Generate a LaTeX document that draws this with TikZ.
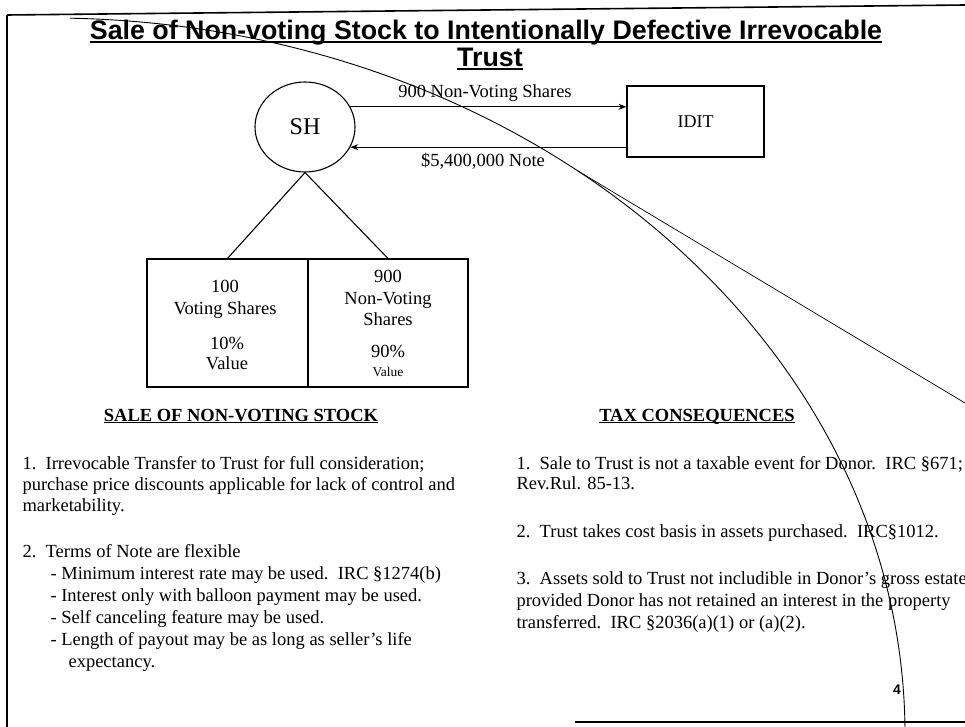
\documentclass[tikz,border=0pt]{standalone}
\usepackage{fontspec}
\setmainfont{Liberation Serif}
\newfontfamily\titlefont{Liberation Sans}
\usetikzlibrary{shapes.geometric,arrows.meta}
\newcommand\myul[1]{\setbox0\hbox{#1}\rlap{\rule[-0.13em]{\wd0}{0.075em}}\box0}
\begin{document}
\begin{tikzpicture}[x=1pt,y=-1pt,
  line width=1.1pt,
  txt/.style={inner sep=0pt, anchor=base, font=\fontsize{18.5}{22}\selectfont},
  lt/.style={inner sep=0pt, anchor=base west, font=\fontsize{18.5}{22}\selectfont},
  ttl/.style={inner sep=0pt, anchor=base, font=\titlefont\bfseries\fontsize{26.8}{30}\selectfont},
  head/.style={inner sep=0pt, anchor=base, font=\bfseries\fontsize{18.5}{22}\selectfont},
  boxx/.style={draw, inner sep=0pt},
  arr/.style={-{Stealth[length=8pt,width=6pt]}},
  thin line/.style={line width=0.9pt}]
\useasboundingbox (0,0) rectangle (965,727);

% frame
\draw[line width=2pt] (7,15) -- (7,727);
\draw[line width=1.6pt] (7,15) -- (965,5);
\draw[line width=2pt] (575,722) -- (965,722);

% title
\node[ttl] (t1) at (486,40) {\myul{Sale of Non-voting Stock to Intentionally Defective Irrevocable}};
\node[ttl] (t2) at (490,67) {\myul{Trust}};

% SH and IDIT
\node[ellipse, draw, minimum width=100pt, minimum height=90pt, inner sep=0pt,
      font=\fontsize{24}{28}\selectfont] (SH) at (305,127) {SH};
\node[boxx, minimum width=137pt, minimum height=71pt,
      font=\fontsize{18}{22}\selectfont] (IDIT) at (695.5,121.5) {IDIT};
\draw[arr] (SH.24) -- (SH.24 -| IDIT.west);
\draw[arr] (IDIT.west |- SH.-24) -- (SH.-24);
\node[txt] (lab1) at (485,98) {900 Non-Voting Shares};
\node[txt] (lab2) at (483,167) {\$5,400,000 Note};

% share boxes
\node[boxx, minimum width=161pt, minimum height=128pt] (VB) at (227.5,323) {};
\node[boxx, minimum width=160pt, minimum height=128pt] (NB) at (388,323) {};
\draw (SH.south) -- (VB.north);
\draw (SH.south) -- (NB.north);

\node[txt] (v1) at (225,292) {100};
\node[txt] (v2) at (225,314) {Voting Shares};
\node[txt] (v3) at (227,349) {10\%};
\node[txt] (v4) at (227,369) {Value};

\node[txt] (n1) at (388,282) {900};
\node[txt] (n2) at (388,304) {Non-Voting};
\node[txt] (n3) at (388,325) {Shares};
\node[txt] (n4) at (388,357) {90\%};
\node[txt, font=\fontsize{13.5}{16}\selectfont] (n5) at (388,376) {Value};

% headings
\node[head] (h1) at (241,421) {\myul{SALE OF NON-VOTING STOCK}};
\node[head] (h2) at (697,421) {\myul{TAX CONSEQUENCES}};

% left text
\node[lt] (a1) at (22,469) {1.\ \ Irrevocable Transfer to Trust for full consideration;};
\node[lt] (a2) at (22,490) {purchase price discounts applicable for lack of control and};
\node[lt] (a3) at (22,511) {marketability.};
\node[lt] (a4) at (22,557) {2.\ \ Terms of Note are flexible};
\node[lt] (a5) at (50,579) {- Minimum interest rate may be used.\ \ IRC §1274(b)};
\node[lt] (a6) at (50,601) {- Interest only with balloon payment may be used.};
\node[lt] (a7) at (50,623) {- Self canceling feature may be used.};
\node[lt] (a8) at (50,645) {- Length of payout may be as long as seller’s life};
\node[lt] (a9) at (68,667) {expectancy.};

% right text
\node[lt] (b1) at (516,469) {1.\ \ Sale to Trust is not a taxable event for Donor.\ \ IRC §671;};
\node[lt] (b2) at (516,489) {Rev.Rul. 85-13.};
\node[lt] (b3) at (516,537) {2.\ \ Trust takes cost basis in assets purchased.\ \ IRC§1012.};
\node[lt] (b4) at (516,584) {3.\ \ Assets sold to Trust not includible in Donor’s gross estate};
\node[lt] (b5) at (516,606) {provided Donor has not retained an interest in the property};
\node[lt] (b6) at (516,628) {transferred.\ \ IRC §2036(a)(1) or (a)(2).};

% page number
\node[inner sep=0pt, anchor=base, font=\titlefont\bfseries\fontsize{14}{16}\selectfont] (pg) at (897,694) {4};

% overlay strokes
\draw[thin line] (70,18.2) arc[start angle=-88.66, end angle=0, x radius=855, y radius=717];
\draw[line width=0.7pt] (578,171) -- (965,403);
\end{tikzpicture}
\end{document}
